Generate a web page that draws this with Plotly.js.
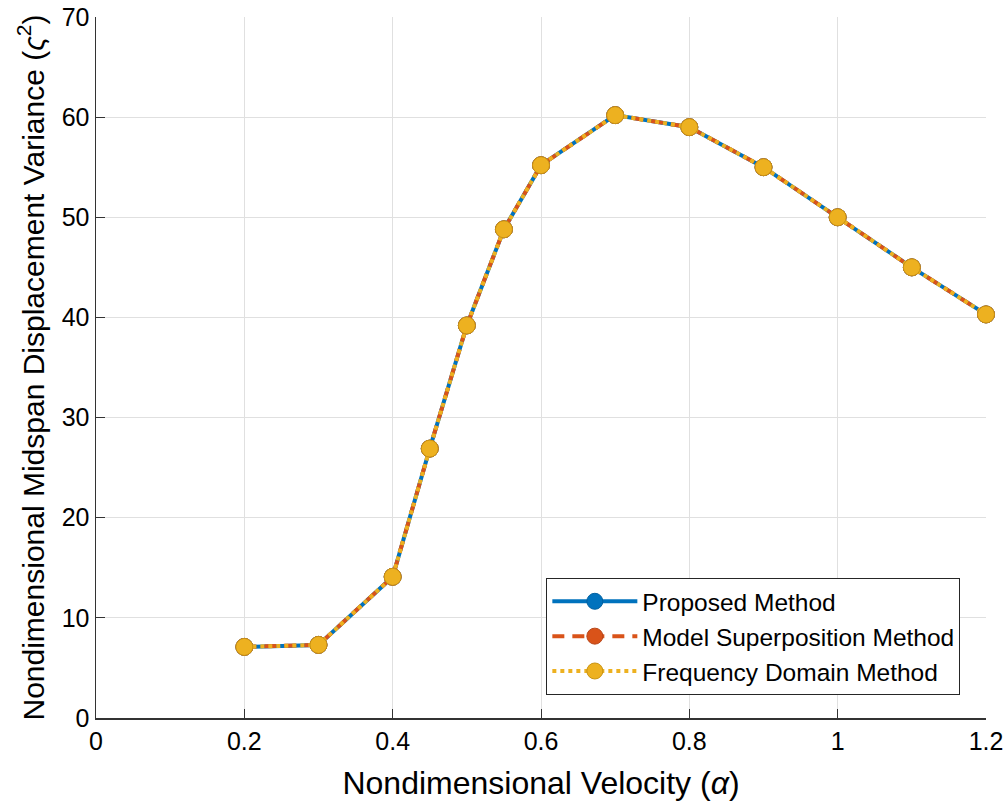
<!DOCTYPE html>
<html>
<head>
<meta charset="utf-8">
<script src="https://cdn.plot.ly/plotly-3.0.1.min.js"></script>
<style>
html,body{margin:0;padding:0;background:#fff;}
#chart{width:1008px;height:808px;}
</style>
</head>
<body>
<div id="chart"></div>
<script>
var velocity = [0.2, 0.3, 0.4, 0.45, 0.5, 0.55, 0.6, 0.7, 0.8, 0.9, 1.0, 1.1, 1.2];
var proposed = [7.1, 7.3, 14.1, 26.9, 39.2, 48.8, 55.2, 60.2, 59.0, 55.0, 50.0, 45.0, 40.3];
var modal    = [7.1, 7.3, 14.1, 26.9, 39.2, 48.8, 55.2, 60.2, 59.0, 55.0, 50.0, 45.0, 40.3];
var freq     = [7.1, 7.3, 14.1, 26.9, 39.2, 48.8, 55.2, 60.2, 59.0, 55.0, 50.0, 45.0, 40.3];
var seriesNames = ['Proposed Method', 'Model Superposition Method', 'Frequency Domain Method'];
var xTicks = [0, 0.2, 0.4, 0.6, 0.8, 1, 1.2];
var xTickLabels = ['0', '0.2', '0.4', '0.6', '0.8', '1', '1.2'];
var yTicks = [0, 10, 20, 30, 40, 50, 60, 70];

var colors = ['#0072BD', '#D95319', '#EDB120'];
var edge = ['#0060a0', '#b8461a', '#c99414'];
var dashes = ['solid', '12px,8px', '4px,4px'];
var ys = [proposed, modal, freq];

var traces = ys.map(function(y, i){
  return {
    x: velocity, y: y, name: seriesNames[i],
    type: 'scatter', mode: 'lines+markers', cliponaxis: false,
    line: {color: colors[i], width: 4, dash: dashes[i]},
    marker: {color: colors[i], size: 17, line: {color: edge[i], width: 1}}
  };
});

var font = 'Liberation Sans, Arial, Helvetica, sans-serif';
var layout = {
  width: 1008, height: 808,
  margin: {l: 96, r: 22, t: 17, b: 90},
  paper_bgcolor: '#fff', plot_bgcolor: '#fff',
  font: {family: font, color: '#000'},
  showlegend: true,
  xaxis: {
    range: [0, 1.2], tickvals: xTicks, ticktext: xTickLabels,
    showgrid: true, gridcolor: '#e0e0e0', gridwidth: 1,
    zeroline: false, showline: true, linecolor: '#333', linewidth: 1.5,
    ticks: 'inside', ticklen: 9, tickcolor: '#333', tickwidth: 1,
    tickfont: {size: 25, color: '#000'},
    title: {text: 'Nondimensional Velocity (<i>α</i>)', font: {size: 32, color: '#000'}, standoff: 18}
  },
  yaxis: {
    range: [0, 70], tickvals: yTicks,
    showgrid: true, gridcolor: '#e0e0e0', gridwidth: 1,
    zeroline: false, showline: true, linecolor: '#333', linewidth: 1.5,
    ticks: 'inside', ticklen: 9, tickcolor: '#333', tickwidth: 1,
    tickfont: {size: 25, color: '#000'},
    title: {text: 'Nondimensional Midspan Displacement Variance (<i>ς</i><sup>2</sup>)', font: {size: 30, color: '#000'}, standoff: 8}
  },
  legend: {
    x: 0.506, y: 0.033, xanchor: 'left', yanchor: 'bottom',
    bgcolor: '#fff', bordercolor: '#262626', borderwidth: 1,
    font: {size: 24.5, color: '#000', family: font},
    itemwidth: 85, tracegroupgap: 0
  }
};

Plotly.newPlot('chart', traces, layout, {displayModeBar: false, staticPlot: true});
</script>
</body>
</html>
